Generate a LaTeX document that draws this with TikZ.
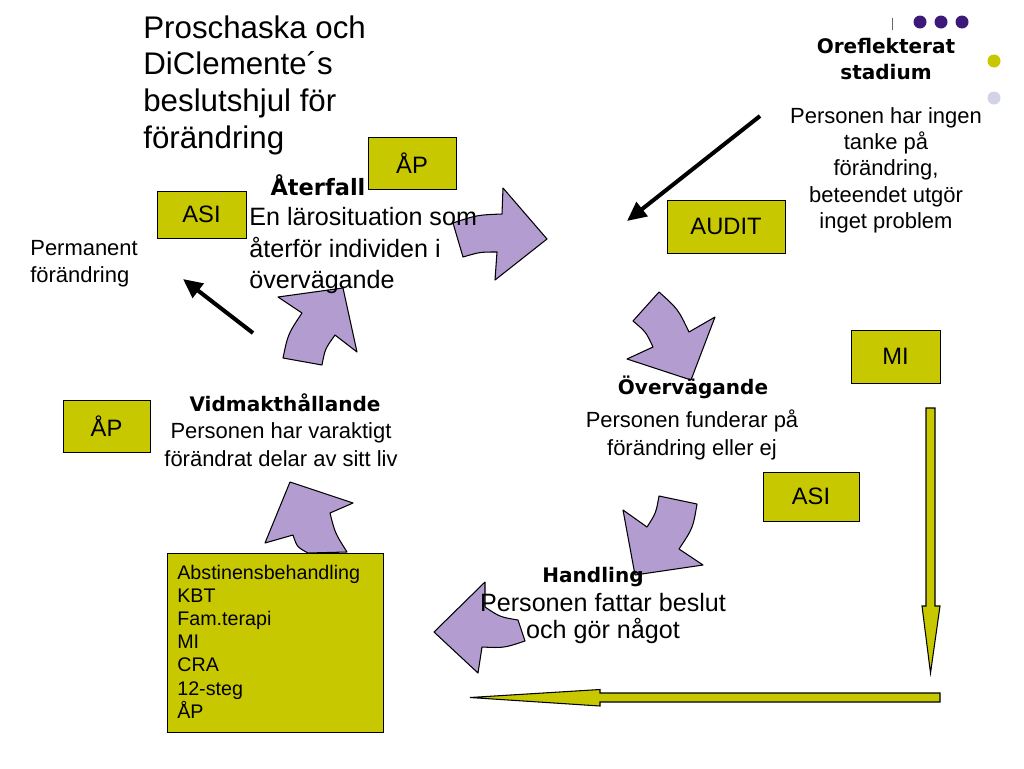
\documentclass[tikz,border=0pt]{standalone}
\usepackage{fontspec}
\setmainfont{Liberation Sans}
\newfontfamily\headfont{DejaVu Sans}
\usetikzlibrary{arrows.meta}
\definecolor{toolyel}{HTML}{C8C800}
\definecolor{lilac}{HTML}{B39DD0}
\definecolor{dotpurp}{HTML}{3D1A78}
\definecolor{dotlav}{HTML}{D2D2E8}
\tikzset{
  tool/.style    = {draw=black, fill=toolyel, inner sep=0pt,
                    font=\fontsize{13.5}{16}\selectfont},
  cyc/.style     = {fill=lilac, draw=black, line width=0.6pt, line join=round},
  yel/.style     = {fill=toolyel, draw=black, line width=0.6pt, line join=miter},
  push/.style    = {line width=2.3pt, -{Triangle[length=11pt,width=10pt]}},
  stage/.style   = {inner sep=0pt, align=center,
                    font=\headfont\bfseries\fontsize{11.4}{14.7}\selectfont},
  desc/.style    = {inner sep=0pt, align=center,
                    font=\fontsize{12.5}{15.9}\selectfont},
  bigdesc/.style = {inner sep=0pt, font=\fontsize{14.3}{18}\selectfont},
  listtxt/.style = {inner sep=0pt, align=left,
                    font=\fontsize{11.2}{13.2}\selectfont},
}

\begin{document}
\begin{tikzpicture}[x=0.02cm, y=-0.02cm]
  \useasboundingbox (0,0) rectangle (1024,768);

  \filldraw[cyc] (453,223) .. controls (477,215) .. (502,214) -- (503,188)
    -- (547,239) -- (495,280) -- (497,252) .. controls (480,252) .. (463,257) -- cycle;
  \filldraw[cyc] (659,292) -- (633,321) .. controls (646,332) .. (653,347)
    -- (627,359) -- (691,380) -- (715,317) -- (689,332) .. controls (678,309) .. cycle;
  \filldraw[cyc] (659,496) -- (697,504) .. controls (693,528) .. (679,549)
    -- (703,565) -- (635,575) -- (623,510) -- (647,527) .. controls (656,513) .. cycle;
  \filldraw[cyc] (485,582) -- (434,632) -- (478,673) -- (482,647)
    .. controls (504,648) .. (525,641) -- (518,620) .. controls (500,617) .. (485,607) -- cycle;
  \filldraw[cyc] (290,482) -- (353,503) -- (330,513) .. controls (335,533) .. (347,552)
    -- (308,553) .. controls (297,547) .. (293,535) -- (265,543) -- cycle;
  \filldraw[cyc] (278,297) -- (343,288) -- (357,352) -- (335,335)
    .. controls (325,349) .. (322,365) -- (283,358) .. controls (288,334) .. (302,313) -- cycle;

  \filldraw[yel] (926,408) -- (935,408) -- (935,606) -- (940,606) -- (930.5,673)
    -- (922,606) -- (926,606) -- cycle;
  \filldraw[yel] (940,693) -- (940,702) -- (600,702) -- (600,706) -- (470,697.5)
    -- (600,689.5) -- (600,693) -- cycle;

  \node[tool, minimum width=1.76cm, minimum height=1.04cm] (apTop)   at (412,163)   {ÅP};
  \node[tool, minimum width=1.78cm, minimum height=0.94cm] (asiLeft) at (201.5,214.5) {ASI};
  \node[tool, minimum width=2.36cm, minimum height=1.06cm] (audit)   at (726,226.5) {AUDIT};
  \node[tool, minimum width=1.78cm, minimum height=1.06cm] (mi)      at (895.5,356.5) {MI};
  \node[tool, minimum width=1.74cm, minimum height=1.04cm] (apLeft)  at (106.5,426) {ÅP};
  \node[tool, minimum width=1.92cm, minimum height=0.98cm] (asiRight) at (811,496.5) {ASI};
  \node[tool, minimum width=4.32cm, minimum height=3.58cm] (treat)   at (275,642.5) {};
  \node[listtxt, anchor=north west] (treatList) at (177,564.5)
    {Abstinensbehandling\\KBT\\Fam.terapi\\MI\\CRA\\12-steg\\ÅP};

  \node[inner sep=0pt, anchor=north west, align=left,
        font=\fontsize{17.8}{21}\selectfont] (title) at (143,15)
    {Proschaska och\\DiClemente´s\\beslutshjul för\\förändring};

  \node[stage, anchor=north] (unreflect) at (886,38) {Oreflekterat\\stadium};
  \node[desc, anchor=north, font=\fontsize{12.5}{15}\selectfont] (unreflectTxt) at (886,107)
    {Personen har ingen\\tanke på\\förändring,\\beteendet utgör\\inget problem};

  \node[stage, anchor=base, font=\headfont\bfseries\fontsize{12.8}{15}\selectfont]
    (relapse) at (318,195) {Återfall};
  \node[bigdesc, anchor=north west, align=left] (relapseTxt) at (249,207)
    {En lärosituation som\\återför individen i\\övervägande};

  \node[inner sep=0pt, anchor=north west, align=left,
        font=\fontsize{12.5}{15.3}\selectfont] (permanent) at (30,240.5)
    {Permanent\\förändring};

  \node[stage, anchor=base] (maintain) at (285,411) {Vidmakthållande};
  \node[desc, anchor=north] (maintainTxt) at (281,422.5)
    {Personen har varaktigt\\förändrat delar av sitt liv};

  \node[stage, anchor=base] (contemplate) at (693,394) {Övervägande};
  \node[desc, anchor=north] (contemplateTxt) at (692,409)
    {Personen funderar på\\förändring eller ej};

  \node[stage, anchor=base] (action) at (593,582) {Handling};
  \node[bigdesc, anchor=north, align=center, font=\fontsize{14.3}{15.3}\selectfont]
    (actionTxt) at (603,593) {Personen fattar beslut\\och gör något};

  \coordinate (pushA)    at (760,116);
  \coordinate (pushAEnd) at (627,221);
  \coordinate (pushB)    at (253,333);
  \coordinate (pushBEnd) at (183,279);
  \draw[push] (pushA) -- (pushAEnd);
  \draw[push] (pushB) -- (pushBEnd);

  \draw[black!60, line width=0.5pt] (892,18) -- (892,30);
  \foreach \dx in {920,941,962}
    \fill[dotpurp] (\dx,22) circle (6.5);
  \fill[toolyel] (994,61) circle (6.5);
  \fill[dotlav]  (994,98) circle (6.5);
\end{tikzpicture}
\end{document}
